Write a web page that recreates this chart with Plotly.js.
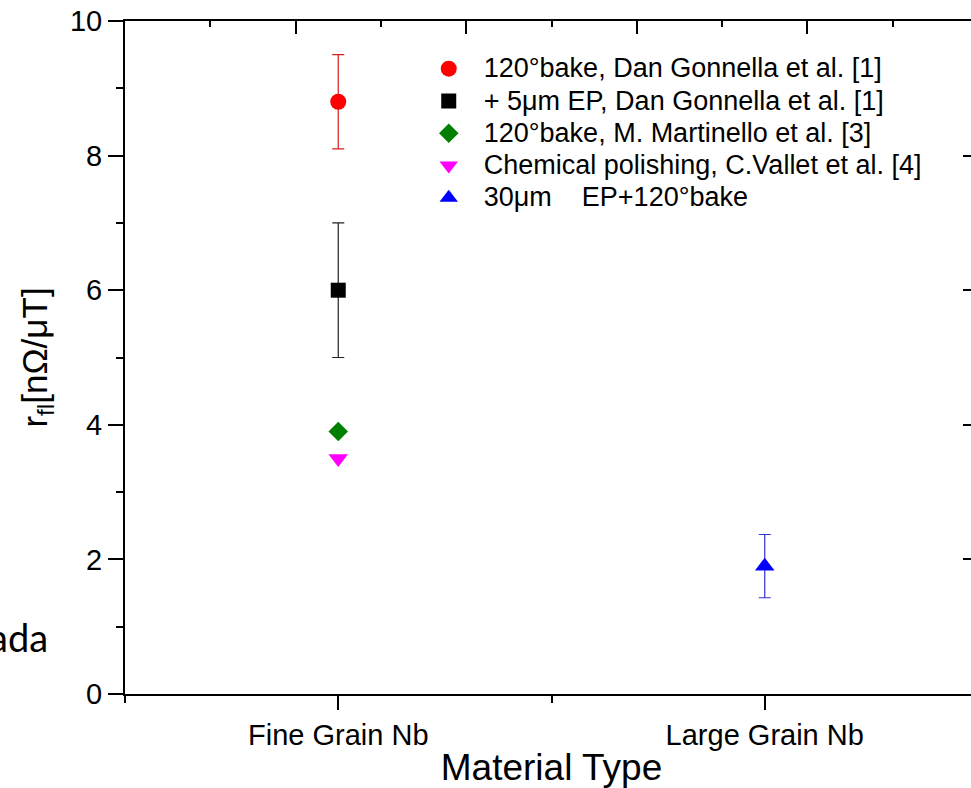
<!DOCTYPE html>
<html>
<head>
<meta charset="utf-8">
<script src="https://cdn.plot.ly/plotly-3.0.1.min.js"></script>
<style>
html, body { margin:0; padding:0; overflow:hidden; background:#fff; }
#chart { width:990px; height:788px; }
</style>
</head>
<body>
<div id="chart"></div>
<script>
const categories = ["Fine Grain Nb", "Large Grain Nb"];
const seriesNames = [
  "120°bake, Dan Gonnella et al. [1]",
  "+ 5μm EP, Dan Gonnella et al. [1]",
  "120°bake, M. Martinello et al. [3]",
  "Chemical polishing, C.Vallet et al. [4]",
  "30μm    EP+120°bake"
];
const seriesCategory = ["Fine Grain Nb", "Fine Grain Nb", "Fine Grain Nb", "Fine Grain Nb", "Large Grain Nb"];
const seriesValues = [8.8, 6.0, 3.9, 3.5, 1.9];
const seriesErrors = [0.7, 1.0, null, null, 0.47];
const yTickVals = [0, 2, 4, 6, 8, 10];

const colors = ["#ff0000", "#000000", "#008000", "#ff00ff", "#0000ff"];
const errColors = ["#d42020", "#222222", "#008000", "#ff00ff", "#3030d0"];
const symbols = ["circle", "square", "diamond", "triangle-down", "triangle-up"];
const sizes = [16, 15, 15, 17, 17];

const FONT = "Liberation Sans, Arial, sans-serif";

const traces = seriesNames.map((name, i) => {
  const t = {
    type: "scatter",
    mode: "markers",
    name: '<span style="font-size:27px">' + name + '</span>',
    x: [categories.indexOf(seriesCategory[i])],
    y: [seriesValues[i]],
    marker: { color: colors[i], symbol: symbols[i], size: sizes[i], line: { width: 0 } },
    hoverinfo: "x+y"
  };
  if (seriesErrors[i] !== null) {
    t.error_y = { type: "data", array: [seriesErrors[i]], visible: true, color: errColors[i], thickness: 1.2, width: 6 };
  }
  return t;
});

// helper traces to register the mirror axes (no data)
traces.push({ type: "scatter", mode: "markers", x: [0, 10], y: [null, null], xaxis: "x2", yaxis: "y", showlegend: false, hoverinfo: "skip" });
traces.push({ type: "scatter", mode: "markers", x: [0, 1], y: [null, null], xaxis: "x", yaxis: "y2", showlegend: false, hoverinfo: "skip" });

const layout = {
  width: 990,
  height: 788,
  margin: { l: 125, r: 12, t: 21, b: 94, pad: 0 },
  paper_bgcolor: "#ffffff",
  plot_bgcolor: "#ffffff",
  font: { family: FONT, color: "#000", size: 25 },
  showlegend: true,
  legend: {
    x: 0.3385, y: 0.9605, xanchor: "left", yanchor: "top",
    bgcolor: "rgba(0,0,0,0)", borderwidth: 0,
    font: { family: FONT, size: 22.5, color: "#000" },
    itemwidth: 60, tracegroupgap: 0
  },
  xaxis: {
    range: [-0.5, 1.5],
    tickmode: "array",
    tickvals: categories.map((c, i) => i),
    ticktext: categories,
    ticks: "outside", ticklen: 14, tickwidth: 2, tickcolor: "#000",
    minor: { tick0: 0.5, dtick: 1, ticks: "outside", ticklen: 7, tickwidth: 2, tickcolor: "#000", showgrid: false },
    showline: true, linewidth: 2, linecolor: "#000",
    showgrid: false, zeroline: false,
    tickfont: { family: FONT, size: 29, color: "#000" },
    title: { text: "Material Type", font: { family: FONT, size: 37, color: "#000" }, standoff: 4 },
    automargin: false
  },
  xaxis2: {
    overlaying: "x", side: "top", anchor: "y",
    range: [0, 10], tick0: 0, dtick: 2,
    ticks: "inside", ticklen: 13, tickwidth: 2, tickcolor: "#000",
    minor: { tick0: 1, dtick: 2, ticks: "inside", ticklen: 6, tickwidth: 2, tickcolor: "#000", showgrid: false },
    showticklabels: false, showline: true, linewidth: 2, linecolor: "#000",
    showgrid: false, zeroline: false
  },
  yaxis: {
    range: [0, 10],
    tickmode: "array", tickvals: yTickVals,
    ticks: "outside", ticklen: 15, tickwidth: 2, tickcolor: "#000",
    minor: { tick0: 1, dtick: 2, ticks: "outside", ticklen: 7, tickwidth: 2, tickcolor: "#000", showgrid: false },
    showline: true, linewidth: 2, linecolor: "#000",
    showgrid: false, zeroline: false,
    tickfont: { family: FONT, size: 29, color: "#000" },
    title: { text: "r<sub>fl</sub>[nΩ/μT]", font: { family: FONT, size: 35, color: "#000" }, standoff: 12 },
    automargin: false
  },
  yaxis2: {
    overlaying: "y", side: "right", anchor: "x",
    range: [0, 10], dtick: 2, tick0: 0,
    ticks: "inside", ticklen: 15, tickwidth: 2, tickcolor: "#000",
    minor: { tick0: 1, dtick: 2, ticks: "inside", ticklen: 7, tickwidth: 2, tickcolor: "#000", showgrid: false },
    showticklabels: false, showline: true, linewidth: 2, linecolor: "#000",
    showgrid: false, zeroline: false
  },
  annotations: [{
    xref: "paper", yref: "paper",
    x: (50 - 125) / 853, y: (694 - 637) / 673,
    xanchor: "right", yanchor: "middle",
    text: "ada", showarrow: false,
    font: { family: "Lato, Open Sans, sans-serif", size: 38, color: "#000" }
  }]
};

Plotly.newPlot("chart", traces, layout, { displayModeBar: false, staticPlot: true });
</script>
</body>
</html>
